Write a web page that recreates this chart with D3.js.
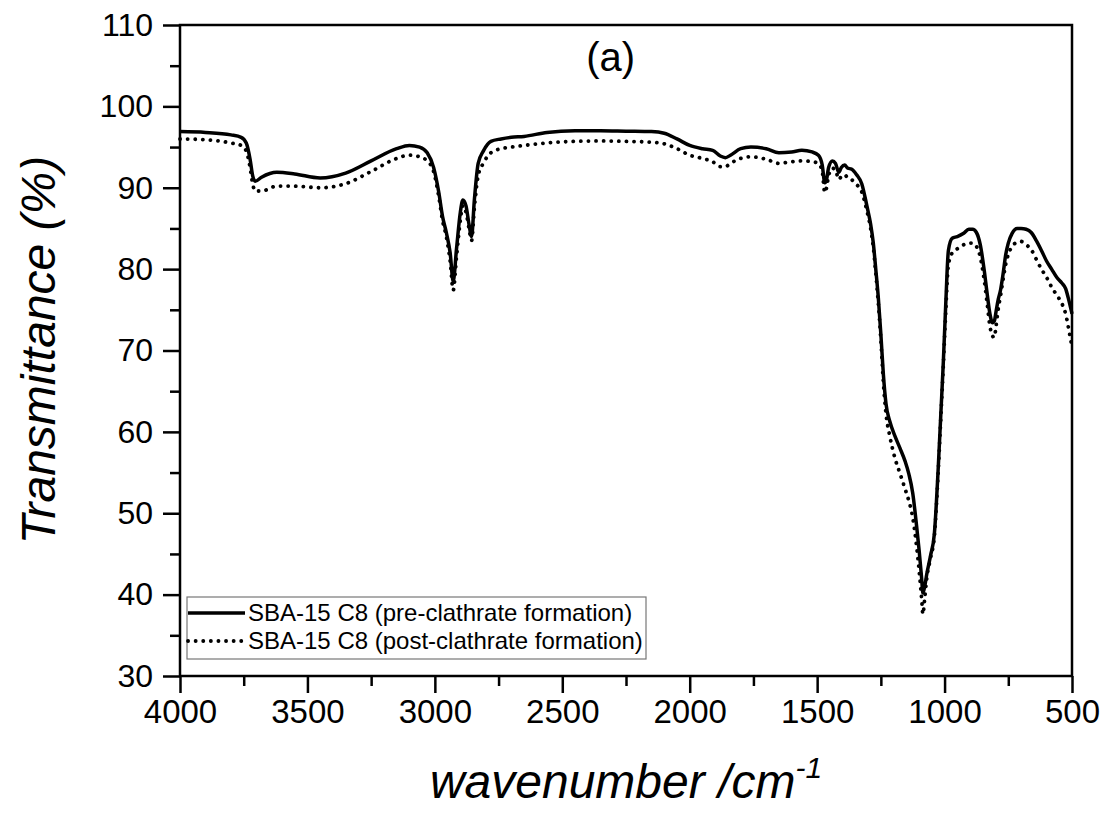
<!DOCTYPE html>
<html lang="en">
<head>
<meta charset="utf-8">
<script src="https://d3js.org/d3.v7.min.js"></script>
<style>
  body { margin: 0; background: #fff; }
  text { font-family: "Liberation Sans", Arial, sans-serif; fill: #000; }
</style>
</head>
<body>
<div id="chart"></div>
<script>

// wavenumbers (cm-1)
const wavenumber = [4000, 3900, 3800, 3760, 3740, 3725, 3715, 3705, 3680, 3620, 3550, 3450, 3350, 3250, 3150, 3100,
  3060, 3030, 3005, 2985, 2970, 2955, 2940, 2928, 2915, 2900, 2890, 2878, 2866, 2856, 2845, 2830, 2810, 2780, 2740,
  2700, 2650, 2560, 2450, 2350, 2250, 2150, 2100, 2050, 2000, 1950, 1910, 1880, 1860, 1840, 1800, 1760, 1700, 1650,
  1600, 1560, 1520, 1495, 1480, 1470, 1463, 1455, 1440, 1428, 1415, 1405, 1392, 1380, 1365, 1345, 1325, 1305, 1290,
  1280, 1270, 1260, 1250, 1240, 1230, 1215, 1195, 1175, 1155, 1140, 1125, 1110, 1100, 1090, 1085, 1078, 1070, 1055,
  1040, 1025, 1015, 1005, 995, 985, 970, 950, 925, 905, 890, 875, 860, 845, 833, 822, 812, 805, 798, 790, 780, 770,
  760, 750, 735, 715, 700, 680, 660, 640, 620, 600, 580, 560, 540, 525, 515, 505, 500];

// pre-clathrate formation (solid)
const preValues = [96.9, 96.8, 96.5, 96.2, 95.5, 93.5, 91.5, 90.8, 91.3, 91.9, 91.7, 91.2, 91.8, 93.3, 94.8, 95.2,
  95.0, 94.3, 92.5, 89.5, 86.5, 84.5, 82.0, 78.5, 82.5, 87.0, 88.5, 87.8, 85.5, 84.0, 88.5, 93.0, 94.5, 95.7, 96.0,
  96.2, 96.3, 96.8, 97.0, 97.0, 96.95, 96.9, 96.7, 96.0, 95.2, 94.8, 94.6, 93.9, 93.7, 94.0, 94.8, 95.0, 94.8, 94.3,
  94.4, 94.6, 94.4, 94.0, 92.8, 90.6, 91.0, 92.5, 93.3, 93.0, 91.9, 92.5, 92.8, 92.4, 92.3, 91.6, 90.5, 87.8, 85.5,
  83.3, 80.0, 76.5, 72.0, 67.0, 63.5, 61.3, 59.5, 58.0, 56.4, 54.8, 52.5, 48.5, 45.5, 42.0, 40.2, 41.0, 42.5, 44.8,
  47.5, 55.5, 62.0, 68.5, 76.0, 82.3, 83.8, 84.0, 84.4, 84.9, 84.9, 84.5, 83.0, 80.0, 77.0, 74.5, 73.4, 73.6, 74.8,
  76.2, 77.5, 79.5, 81.8, 83.2, 84.4, 85.0, 85.0, 84.9, 84.5, 83.5, 82.3, 81.0, 80.0, 79.0, 78.3, 77.6, 76.5, 75.2, 74.5];

// post-clathrate formation (dotted)
const postValues = [96.0, 95.9, 95.5, 95.2, 94.5, 92.5, 90.5, 89.6, 89.6, 90.2, 90.2, 90.0, 90.5, 92.0, 93.6, 94.0,
  93.8, 93.3, 92.0, 89.0, 86.0, 84.0, 81.0, 77.4, 81.5, 86.0, 87.8, 87.0, 85.0, 83.5, 87.5, 91.5, 93.0, 94.3, 94.8,
  95.0, 95.2, 95.5, 95.7, 95.75, 95.7, 95.6, 95.4, 94.8, 94.0, 93.6, 93.2, 92.6, 92.6, 93.0, 93.6, 93.8, 93.5, 93.0,
  93.2, 93.3, 93.2, 93.0, 92.0, 89.4, 90.0, 91.5, 92.4, 92.2, 91.0, 91.4, 91.6, 91.2, 91.0, 90.4, 89.5, 87.2, 85.0,
  82.8, 79.5, 75.8, 71.3, 66.0, 62.3, 59.5, 56.8, 54.9, 53.0, 51.5, 49.5, 46.0, 43.0, 39.5, 37.6, 39.5, 42.0, 44.5,
  47.2, 55.0, 61.5, 68.0, 75.0, 80.5, 82.0, 82.5, 83.0, 83.2, 83.2, 82.8, 81.5, 78.8, 75.8, 73.0, 71.8, 71.6, 73.0,
  75.0, 76.8, 78.8, 80.6, 81.8, 82.8, 83.3, 83.4, 83.0, 82.4, 81.2, 80.0, 79.0, 77.8, 76.8, 75.8, 74.5, 73.0, 71.3, 70.5];

const xTicks = [4000, 3500, 3000, 2500, 2000, 1500, 1000, 500];
const yTicks = [30, 40, 50, 60, 70, 80, 90, 100, 110];
const seriesNames = ["SBA-15 C8 (pre-clathrate formation)", "SBA-15 C8 (post-clathrate formation)"];

const W = 1109, H = 821;
const margin = {top: 25, right: 37, bottom: 145, left: 180};
const width = W - margin.left - margin.right,
      height = H - margin.top - margin.bottom;

const svg = d3.select("#chart").append("svg")
    .attr("width", W).attr("height", H);

const g = svg.append("g")
    .attr("transform", `translate(${margin.left},${margin.top})`);

const x = d3.scaleLinear().domain([4000, 500]).range([0, width]);
const y = d3.scaleLinear().domain([30, 110]).range([height, 0]);

// minor ticks first
g.append("g")
    .attr("transform", `translate(0,${height})`)
    .call(d3.axisBottom(x).tickValues(d3.range(3750, 500, -500)).tickSize(10).tickFormat(""))
    .call(a => a.select(".domain").remove())
    .selectAll("line").attr("stroke-width", 2.5);
g.append("g")
    .call(d3.axisLeft(y).tickValues(d3.range(35, 110, 10)).tickSize(10).tickFormat(""))
    .call(a => a.select(".domain").remove())
    .selectAll("line").attr("stroke-width", 2.5);

// major axes
const xAxis = g.append("g")
    .attr("transform", `translate(0,${height})`)
    .call(d3.axisBottom(x).tickValues(xTicks).tickSize(17).tickPadding(7).tickFormat(d3.format("d")));
const yAxis = g.append("g")
    .call(d3.axisLeft(y).tickValues(yTicks).tickSize(17).tickPadding(10));
[xAxis, yAxis].forEach(a => {
  a.select(".domain").remove();
  a.selectAll("line").attr("stroke-width", 2.5);
  a.selectAll("text").attr("fill", "#000");
});
xAxis.selectAll("text").style("font-size", "33px");
yAxis.selectAll("text").style("font-size", "32px");

// frame
g.append("rect")
    .attr("width", width).attr("height", height)
    .attr("fill", "none").attr("stroke", "#000").attr("stroke-width", 2.5);

const line = d3.line()
    .x((d, i) => x(wavenumber[i]))
    .y(d => y(d))
    .curve(d3.curveMonotoneX);

g.append("path")
    .datum(postValues)
    .attr("d", line)
    .attr("fill", "none").attr("stroke", "#000")
    .attr("stroke-width", 3.8).attr("stroke-linecap", "round")
    .attr("stroke-dasharray", "0.1 7.5");

g.append("path")
    .datum(preValues)
    .attr("d", line)
    .attr("fill", "none").attr("stroke", "#000")
    .attr("stroke-width", 3.5).attr("stroke-linejoin", "round");

// panel label
g.append("text")
    .attr("x", x(2310)).attr("y", 46)
    .attr("text-anchor", "middle")
    .style("font-size", "40px")
    .text("(a)");

// legend
const legend = g.append("g").attr("transform", "translate(7,572)");
legend.append("rect")
    .attr("width", 459).attr("height", 62)
    .attr("fill", "#fff").attr("stroke", "#777").attr("stroke-width", 1.2);
seriesNames.forEach((name, i) => {
  const yy = 16 + i * 28;
  legend.append("line")
      .attr("x1", 1).attr("x2", 58).attr("y1", yy).attr("y2", yy)
      .attr("stroke", "#000").attr("stroke-width", i === 0 ? 3.5 : 3.8)
      .attr("stroke-linecap", i === 0 ? "butt" : "round")
      .attr("stroke-dasharray", i === 0 ? null : "0.1 7.5");
  legend.append("text")
      .attr("x", 61).attr("y", yy + 8)
      .style("font-size", "24px")
      .text(name);
});

// axis titles
const xt = svg.append("text")
    .attr("x", 626).attr("y", 798)
    .attr("text-anchor", "middle")
    .style("font-size", "48px").style("font-style", "italic");
xt.append("tspan").text("wavenumber /cm");
xt.append("tspan").attr("dy", -20).style("font-size", "30px").text("-1");

svg.append("text")
    .attr("transform", "translate(55,350) rotate(-90)")
    .attr("text-anchor", "middle")
    .style("font-size", "48px").style("font-style", "italic")
    .text("Transmittance (%)");

</script>
</body>
</html>
